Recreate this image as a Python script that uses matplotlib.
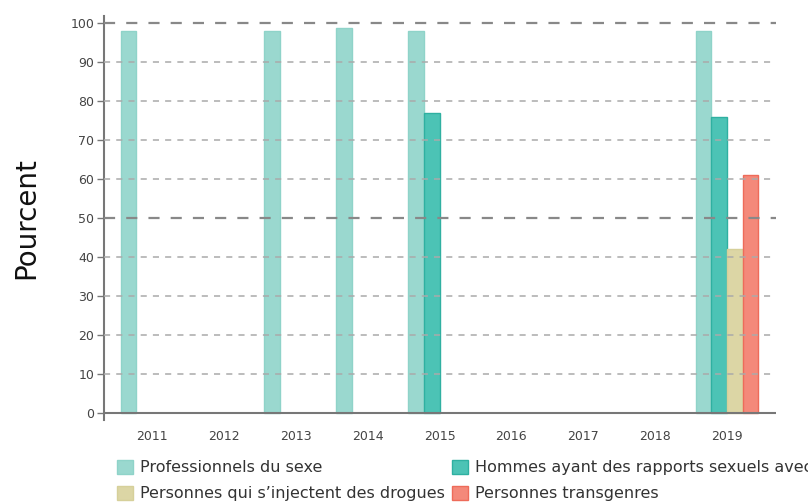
import numpy as np
import matplotlib
matplotlib.use("Agg")
import matplotlib.pyplot as plt

annees = ["2011", "2012", "2013", "2014", "2015", "2016", "2017", "2018", "2019"]
series = [
    "Professionnels du sexe",
    "Hommes ayant des rapports sexuels avec des hommes",
    "Personnes qui s\u2019injectent des drogues",
    "Personnes transgenres",
]
professionnels = [98, np.nan, 98, 98.7, 98, np.nan, np.nan, np.nan, 98]
hommes = [np.nan, np.nan, np.nan, np.nan, 77, np.nan, np.nan, np.nan, 76]
drogues = [np.nan, np.nan, np.nan, np.nan, np.nan, np.nan, np.nan, np.nan, 42]
transgenres = [np.nan, np.nan, np.nan, np.nan, np.nan, np.nan, np.nan, np.nan, 61]

couleurs = ["#9ad8cf", "#4cc3b5", "#dcd6a5", "#f4897a"]
bords = ["#8fd3c9", "#2fb0a1", "#d6d09a", "#ee6b5a"]

fig = plt.figure(figsize=(8.08, 5.04), dpi=100)
ax = fig.add_axes([0.1287, 0.1667, 0.8317, 0.8015])

x = np.arange(len(annees))
largeur = 0.218
donnees = [professionnels, hommes, drogues, transgenres]
barres = []
for i, (vals, c, b, nom) in enumerate(zip(donnees, couleurs, bords, series)):
    barres.append(ax.bar(x + (i - 1.5) * largeur, vals, largeur, color=c,
                         edgecolor=b, linewidth=1, label=nom, zorder=2))

ax.set_xlim(-0.667, 8.68)
ax.set_ylim(-1.8, 101.9)
ax.set_xticks(x)
ax.set_xticklabels(annees)
ax.set_yticks(range(0, 101, 10))
ax.tick_params(axis="x", length=0, pad=7.5, labelsize=9, labelcolor="#444444")
ax.tick_params(axis="y", length=5, width=1, color="#777777", labelsize=9,
               labelcolor="#444444", pad=2)

for v in range(10, 101, 10):
    if v % 50 == 0:
        ax.axhline(v, color="#888888", lw=1.6, ls=(0, (5, 5)), zorder=3)
    else:
        ax.axhline(v, color="#aaaaaa", lw=1.1, ls=(0, (4, 4)), zorder=3)
ax.axhline(0, color="#777777", lw=1.5, zorder=3)

for s in ["top", "right", "bottom"]:
    ax.spines[s].set_visible(False)
ax.spines["left"].set_color("#777777")
ax.spines["left"].set_linewidth(1.5)

ax.set_ylabel("Pourcent", fontsize=20, color="#111111", labelpad=22)

# ordre colonne par colonne pour avoir 2 lignes comme l'original
ordre = [0, 2, 1, 3]
fig.legend([barres[k] for k in ordre], [series[k] for k in ordre],
           loc="upper left", bbox_to_anchor=(0.1448, 0.088), ncol=2,
           frameon=False, fontsize=11.5, handlelength=1.0, handleheight=1.0,
           handletextpad=0.45, columnspacing=0.45, labelspacing=0.65,
           borderaxespad=0, borderpad=0, labelcolor="#333333")

fig.savefig("out.png", dpi=100)
